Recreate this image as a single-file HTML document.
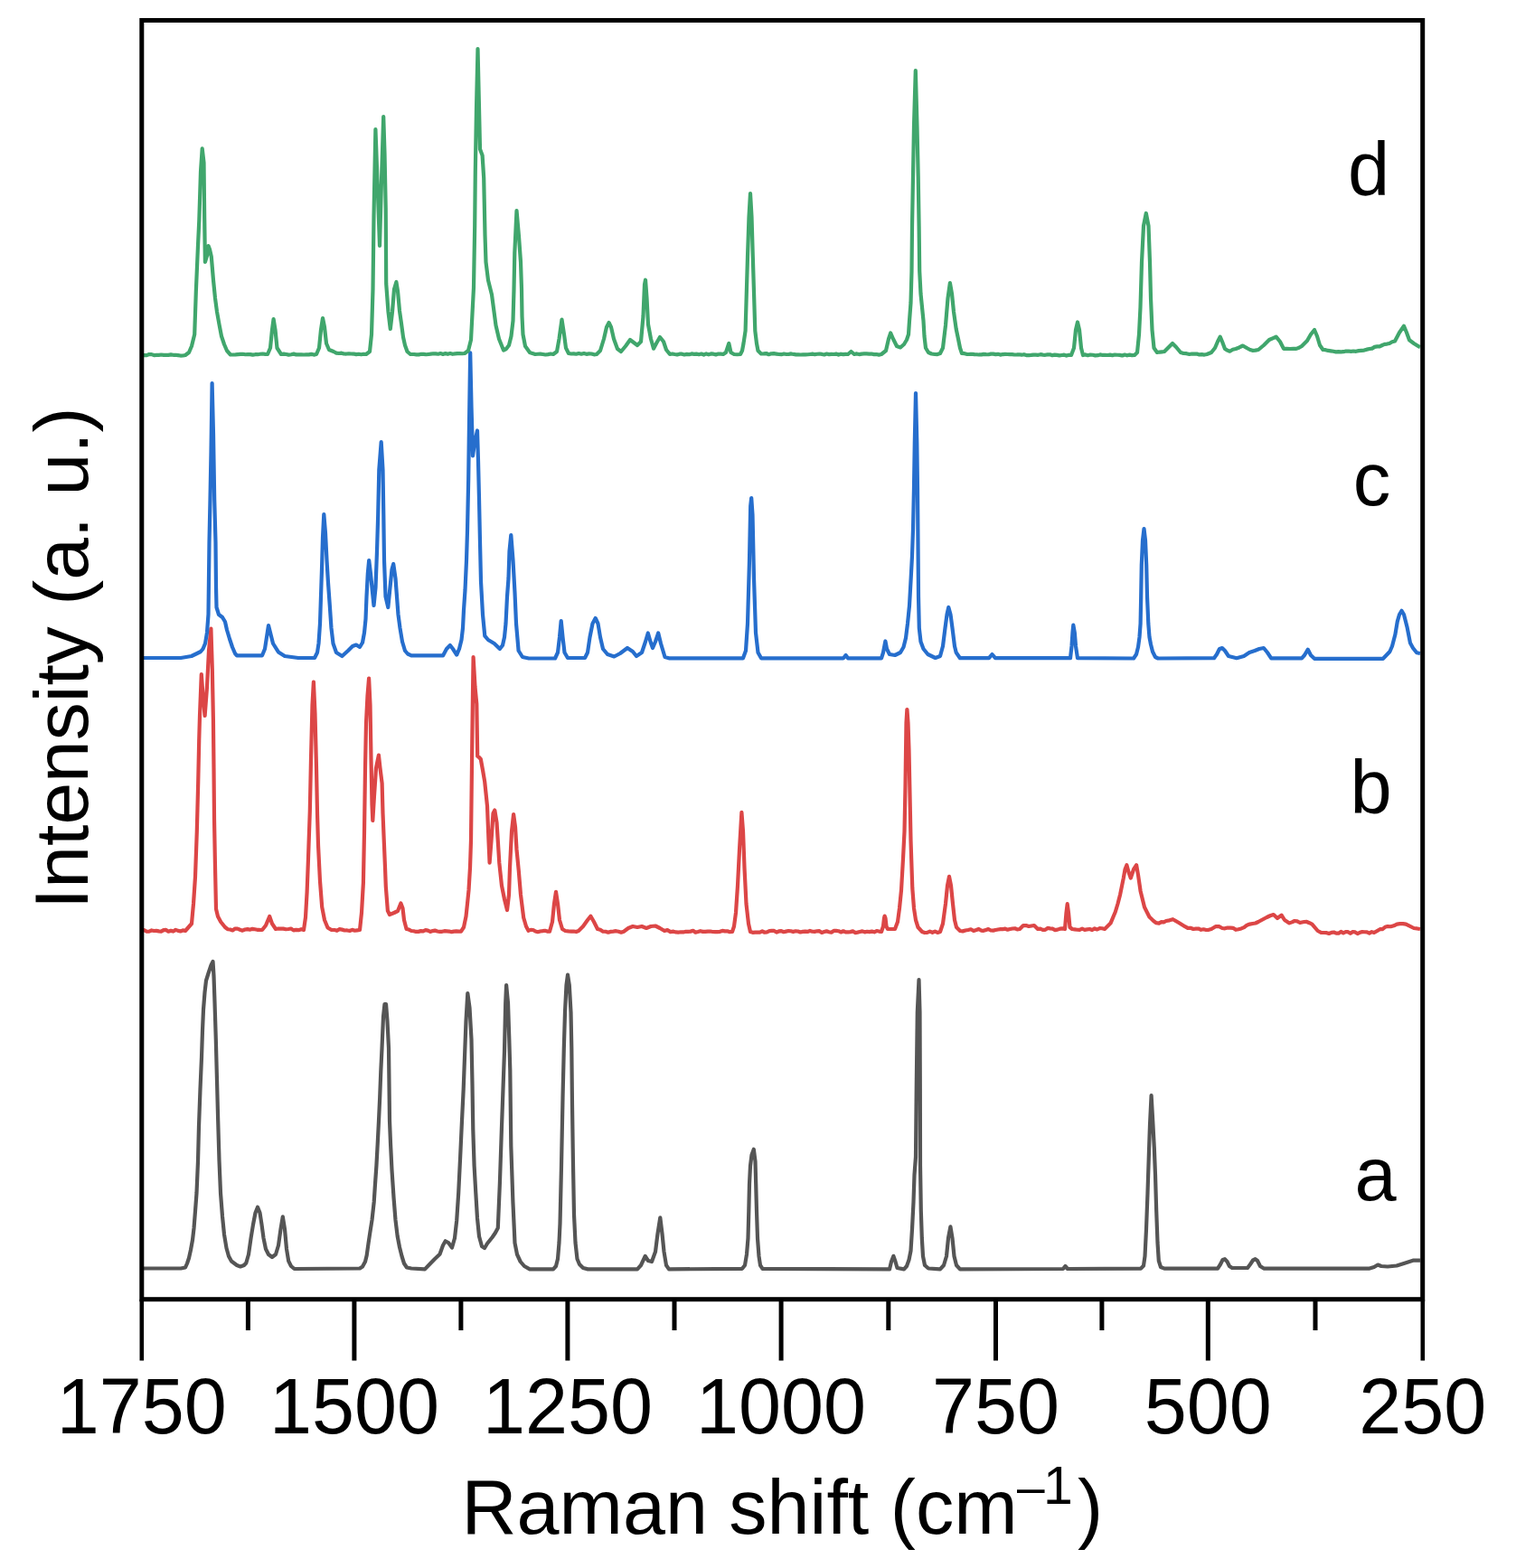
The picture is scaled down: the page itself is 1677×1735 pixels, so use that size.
<!DOCTYPE html>
<html><head><meta charset="utf-8"><title>Raman spectra</title>
<style>html,body{margin:0;padding:0;background:#fff;overflow:hidden;width:1677px;height:1735px;}svg{display:block;}</style>
</head><body>
<svg width="1677" height="1735" viewBox="0 0 1677 1735">
<rect x="0" y="0" width="1677" height="1735" fill="#ffffff"/>
<path d="M157 1403.5 L200 1403.5 L205 1402.5 L207 1398 L209 1392 L211 1383 L213 1372 L214.5 1359 L216 1340 L217.5 1320 L219 1285 L220 1246 L221.5 1205 L223 1170 L224 1140 L225 1117 L226.5 1098 L228 1085 L230.5 1077 L232.5 1071 L233.5 1068 L235.5 1064 L236.5 1080 L237.5 1109 L238.8 1150 L240 1195 L241.2 1240 L242.5 1284 L244 1320 L246 1346 L248 1366 L250.5 1381 L253 1390 L256 1395.5 L262 1400 L265.9 1401.5 L270 1400 L272.3 1397.5 L275 1388 L277.6 1369.8 L280 1355 L282.5 1342 L285 1335.7 L287.5 1342 L289.5 1355 L291.5 1369.8 L294 1382 L297 1388 L301 1391 L305 1388 L308 1378 L310.5 1360 L312.8 1346.4 L315 1360 L317 1382 L319.2 1395.4 L322 1401 L325.6 1404 L398 1403.5 L401 1401.5 L404 1396 L405.7 1389 L407.5 1376 L409.3 1364 L411.5 1350 L413.7 1330 L415 1310 L416.4 1290 L417.7 1266 L419 1240 L420.2 1214 L421.3 1185 L422.5 1160 L424 1125 L425.5 1111 L427 1111 L428.5 1130 L430 1160 L430.5 1200 L431 1240 L432 1265 L433.5 1295 L435.5 1325 L437.5 1350 L439.7 1368 L442 1380 L444.5 1390 L447 1398 L450 1402.5 L455 1403.5 L470 1404.4 L476.1 1398 L481 1393 L486.5 1387.8 L490 1378 L492.7 1373.3 L496 1375 L500 1380.5 L503 1370 L503 1370 L505.2 1350.5 L507.2 1320 L509.2 1279 L511 1240 L512.7 1205 L514 1170 L515.5 1130 L517.3 1099 L519.5 1115 L521.5 1150 L522.5 1200 L523.3 1250 L524.6 1290 L526.3 1320 L528 1348 L530 1368 L533 1379 L536 1381 L539 1376 L544.6 1369 L548 1364 L550.8 1358.7 L552.9 1309 L555 1246.7 L558 1163 L559.2 1110 L560.1 1090 L562 1110 L563.3 1150 L564.3 1184.5 L565.3 1267.5 L567.4 1329.7 L569.5 1375.4 L572 1388 L575.7 1396 L580 1401 L586 1404.4 L612 1404.4 L615 1401 L617 1393 L618.5 1375 L619.5 1354 L621 1290 L622.5 1215 L623.8 1160 L625 1120 L626.5 1090 L628 1078.7 L629.8 1090 L631.5 1120 L632.3 1160 L633 1223 L634 1290 L635 1344 L636.5 1375 L638.5 1393 L641 1399 L645 1403 L650.4 1404.4 L705 1404.4 L709 1400 L713.7 1389.9 L717 1395 L721 1396 L725 1385 L727.5 1365 L730.3 1347.3 L732.5 1365 L734.5 1385 L737 1400 L740 1404.4 L821 1403.8 L824 1400 L826 1388 L827.5 1370 L828.3 1340 L829 1310 L830 1290 L831.5 1278 L833.8 1271.7 L835.5 1285 L836.2 1310 L837 1340 L838 1370 L839.5 1390 L841 1400 L843.5 1403.8 L984 1404.4 L986 1396 L988.4 1389.8 L990.5 1396 L992.5 1403 L1000 1404.4 L1003 1401 L1005.5 1394 L1007.5 1384 L1009 1360 L1010.5 1330 L1011.5 1300 L1013 1280 L1013.8 1200 L1014.8 1120 L1016.5 1084 L1017.5 1120 L1017.8 1200 L1018 1290 L1018.8 1340 L1019.8 1370 L1021 1390 L1023 1400 L1027 1403.5 L1040 1404.4 L1044 1400 L1047 1390 L1049 1370 L1051.4 1357.4 L1053.5 1370 L1055.5 1390 L1058 1400 L1062 1404.4 L1176 1404 L1178.4 1401 L1181 1404 L1262 1403.6 L1265 1400.5 L1266.5 1390 L1268 1360 L1269.5 1320 L1270.8 1280 L1272 1245 L1273.6 1212 L1275.2 1240 L1276.8 1270 L1278 1300 L1279.2 1340 L1280.5 1375 L1281.8 1395 L1284 1402 L1288 1403.6 L1347 1403.6 L1350 1399 L1352.5 1394 L1354.9 1393.2 L1357.5 1396 L1360 1401 L1363 1403 L1380 1403 L1383 1399 L1386 1394.5 L1388.6 1393.2 L1391 1395 L1394 1401 L1398 1403.6 L1515 1403.6 L1520 1402 L1524.2 1399.5 L1528 1401 L1535 1401.5 L1545 1400.5 L1553 1398 L1563 1394.7 L1571 1394.7" stroke="#555555" stroke-width="4.2" fill="none" stroke-linejoin="round" stroke-linecap="butt"/>
<path d="M157 1030 L159.67 1029.2 L162.33 1030.76 L165 1030.58 L167.67 1029.46 L170.33 1029.99 L173 1029.89 L175.67 1030.33 L178.33 1030.64 L181 1029.11 L183.67 1028.96 L186.33 1030.74 L189 1029.85 L191.67 1030.58 L194.33 1028.9 L197 1029.88 L199.67 1030.49 L202.33 1029.4 L205 1030 L212 1022 L214 1000 L216 970 L217.8 920 L219.2 866 L220.2 820 L221 792 L222.8 746 L224.5 770 L226.6 792 L229 760 L231 720 L233.4 695.6 L234.8 740 L235.9 796 L236.5 850 L237 906 L238 960 L239 1005.7 L241 1014 L244.2 1020 L249 1026 L251.8 1028.23 L254.6 1028.5 L257.32 1029.42 L260.05 1027.54 L262.77 1027.57 L265.49 1028.74 L268.22 1029.66 L270.94 1028.47 L273.66 1028.15 L276.38 1028.64 L279.11 1027.81 L281.83 1028.27 L284.55 1028.79 L287.28 1028.95 L290 1029 L294 1024 L298.2 1014 L301 1022 L305 1028 L307.82 1027.5 L310.64 1027.59 L313.45 1027.65 L316.27 1028.27 L319.09 1027.99 L321.91 1027.49 L324.73 1029.38 L327.55 1028.85 L330.36 1029.13 L333.18 1028.22 L336 1029 L338 1015 L339.6 987 L341 950 L342.8 897.8 L344 840 L345.5 780 L346.9 754.7 L348.5 790 L350 850 L351 900 L352 935 L354 975 L356.2 1003.6 L359 1018 L362.5 1026.5 L366.25 1028.83 L370 1029 L372.8 1029.79 L375.6 1028.17 L378.4 1028.63 L381.2 1029.49 L384 1029.46 L386.8 1029.96 L389.6 1028.83 L392.4 1029.73 L395.2 1029.37 L398 1029 L400 1010 L401.9 976.7 L403 920 L404 850 L405 800 L406.5 770 L408.1 750.5 L409.5 780 L410.5 840 L411.5 890 L412.3 908 L414 880 L416 850 L418.9 835.6 L420.5 850 L422.6 866.7 L423.5 900 L424.7 929 L426 960 L426.8 980.8 L428.9 1007.8 L431 1012 L436 1010 L440 1008 L443.4 999.5 L445.5 1005 L447 1018 L449.6 1028 L452.3 1028.57 L455 1030 L457.62 1030.23 L460.24 1030.91 L462.86 1030.86 L465.48 1030.14 L468.1 1030.36 L470.71 1029.18 L473.33 1029.67 L475.95 1030.92 L478.57 1030.11 L481.19 1029.61 L483.81 1030.47 L486.43 1030.85 L489.05 1030.82 L491.67 1030.19 L494.29 1030.37 L496.9 1030.55 L499.52 1031.18 L502.14 1030.65 L504.76 1030.4 L507.38 1030.64 L510 1030.7 L513 1026 L515.5 1014 L517 1000 L518.5 985 L520 960 L521 930 L521.6 880 L522.3 820 L523 766.8 L523.6 727 L525.5 760 L527.3 779 L528.2 836.6 L530 838 L531.8 840 L534 852 L536.2 865 L539 892 L540.5 930 L541.6 954.7 L543.5 930 L545.5 900 L547.3 896.5 L549.5 910 L552.3 954.7 L555 980 L558 995 L561 1007 L563 990 L564 960 L566 920 L568.1 901 L570 915 L571.5 940 L573.8 963.6 L576 990 L579.2 1015.5 L582 1025 L584.5 1029.8 L587.11 1028.87 L589.72 1029 L592.33 1030.55 L594.94 1031.26 L597.56 1030.51 L600.17 1030.17 L602.78 1029.77 L605.39 1030.6 L608 1030.7 L611 1020 L613 1000 L615 986.9 L617 1000 L619 1018 L622 1028 L625.33 1029.96 L628.67 1030.4 L632 1030.7 L634.67 1030.55 L637.33 1031.03 L640 1030 L645 1025 L650 1018 L653.4 1013.7 L657 1020 L661 1028 L664 1028.76 L667 1030.7 L669.88 1030.73 L672.75 1031.7 L675.62 1030.87 L678.5 1030.61 L681.38 1030.19 L684.25 1030.81 L687.12 1031.71 L690 1030.7 L695 1027 L700 1025 L705 1026 L710 1025 L715 1027 L720 1025 L725 1024.5 L730 1027 L735 1030 L738.33 1029.15 L741.67 1031.09 L745 1030.7 L747.71 1031.42 L750.42 1031.57 L753.12 1031.27 L755.83 1031.43 L758.54 1030.8 L761.25 1030.91 L763.96 1030.62 L766.67 1029.82 L769.38 1031.63 L772.08 1030.98 L774.79 1030.18 L777.5 1030.86 L780.21 1030.83 L782.92 1030.56 L785.62 1030.55 L788.33 1030.98 L791.04 1031.18 L793.75 1031.17 L796.46 1030.85 L799.17 1029.91 L801.88 1030.37 L804.58 1030.26 L807.29 1031.17 L810 1031 L812 1025 L814 1010 L816 980 L818 940 L820.4 898.8 L822 920 L823.5 960 L825.5 1000 L828 1022 L830 1031 L832.64 1031.79 L835.27 1031.66 L837.91 1031.65 L840.55 1031.7 L843.18 1030.46 L845.82 1031.75 L848.45 1031.38 L851.09 1030.08 L853.73 1029.94 L856.36 1029.93 L859 1031.56 L861.64 1030.45 L864.27 1030.14 L866.91 1031.27 L869.55 1030.66 L872.18 1030.05 L874.82 1030.25 L877.45 1031.06 L880.09 1030.27 L882.73 1030.5 L885.36 1031.47 L888 1030.9 L890.64 1030.61 L893.27 1030.94 L895.91 1029.95 L898.55 1030.75 L901.18 1030.83 L903.82 1030.31 L906.45 1030.14 L909.09 1031.88 L911.73 1031.02 L914.36 1030.36 L917 1031.23 L919.64 1031.7 L922.27 1029.95 L924.91 1029.94 L927.55 1030.22 L930.18 1031.48 L932.82 1030.25 L935.45 1031.45 L938.09 1031.39 L940.73 1031.1 L943.36 1030.39 L946 1032.05 L948.64 1031.66 L951.27 1031.04 L953.91 1030.39 L956.55 1031.33 L959.18 1030.77 L961.82 1031.17 L964.45 1030.61 L967.09 1031.29 L969.73 1030.03 L972.36 1030.56 L975 1031 L977 1025 L978 1016 L978.6 1013.6 L979.5 1016 L980.5 1025 L982 1028 L987 1028 L990 1028 L993 1020 L995 1005 L997 985 L999 950 L1000.5 920 L1001.5 870 L1002.5 800 L1003.4 785 L1004.5 800 L1005.5 830 L1006.5 880 L1007.5 930 L1008.5 960 L1009.3 983 L1011 1005 L1013 1018 L1015.5 1026 L1020 1031 L1022.86 1032.03 L1025.71 1031.83 L1028.57 1030.57 L1031.43 1031.79 L1034.29 1030.58 L1037.14 1031.97 L1040 1031 L1043 1022 L1046 1000 L1048 980 L1050 969.8 L1052 980 L1054 1000 L1056 1018 L1058 1026 L1062 1030 L1065 1030.37 L1068 1029.48 L1071 1028.96 L1074 1028.25 L1077 1030 L1080 1029 L1082.67 1027.93 L1085.33 1029.59 L1088 1029.85 L1090.67 1028.93 L1093.33 1028 L1096 1029.48 L1098.67 1029.65 L1101.33 1029 L1104 1028.52 L1106.67 1028.18 L1109.33 1028.05 L1112 1027.69 L1114.67 1028.66 L1117.33 1028.07 L1120 1027.49 L1122.67 1027.24 L1125.33 1028.42 L1128 1028 L1132 1024 L1135 1024.05 L1138 1025 L1141 1024.5 L1144 1024 L1148 1028 L1150.73 1027.62 L1153.45 1028.82 L1156.18 1028.88 L1158.91 1026.94 L1161.64 1027.34 L1164.36 1027.62 L1167.09 1029.07 L1169.82 1028.62 L1172.55 1027.65 L1175.27 1027.37 L1178 1028 L1179.5 1010 L1180.7 1000.2 L1182 1010 L1183.5 1026 L1186 1028 L1188.77 1028.38 L1191.54 1028.74 L1194.31 1028.95 L1197.08 1027.66 L1199.85 1028.84 L1202.62 1028.41 L1205.38 1027.97 L1208.15 1029.07 L1210.92 1027.42 L1213.69 1028.5 L1216.46 1027.09 L1219.23 1027.27 L1222 1028 L1228.5 1021.6 L1233.8 1009 L1236.5 1000 L1239.2 989.4 L1242.8 971.6 L1244.5 962 L1246.4 957.2 L1248.5 965 L1250.8 971.6 L1254 962 L1257.1 957.2 L1259 968 L1261.6 985.9 L1266 1003.8 L1271.4 1014.5 L1276 1019 L1279.05 1021.2 L1282.1 1021.6 L1284.73 1020.1 L1287.37 1020.44 L1290 1019 L1293.7 1018.32 L1297.4 1017.2 L1304 1021 L1310.8 1025.2 L1313.87 1026.88 L1316.93 1026.78 L1320 1028 L1322.86 1027.65 L1325.71 1027.54 L1328.57 1028.81 L1331.43 1028.23 L1334.29 1029 L1337.14 1028.85 L1340 1028 L1345 1025 L1348.5 1025.2 L1352 1027 L1355 1027.31 L1358 1026.53 L1361 1026.59 L1364 1026.86 L1367 1028.81 L1370 1028.2 L1373.12 1027.43 L1376.25 1026.12 L1379.38 1023.65 L1382.5 1022.6 L1385.67 1021.99 L1388.83 1021.49 L1392 1020 L1401.3 1015 L1405.05 1013.23 L1408.8 1012 L1413 1016 L1417.6 1012.6 L1421 1018 L1426.3 1021.4 L1429.15 1020.36 L1432 1019 L1435 1019.39 L1438 1021 L1442.6 1020 L1445.53 1019.95 L1448.47 1021.22 L1451.4 1022.6 L1457.7 1030 L1461.35 1031.86 L1465 1032 L1467.62 1032.14 L1470.24 1032.94 L1472.86 1031.91 L1475.48 1031.51 L1478.1 1032.63 L1480.71 1032.72 L1483.33 1030.93 L1485.95 1032.37 L1488.57 1031.1 L1491.19 1031.15 L1493.81 1032.85 L1496.43 1030.99 L1499.05 1031.43 L1501.67 1033.07 L1504.29 1031.83 L1506.9 1031.15 L1509.52 1031.27 L1512.14 1031.43 L1514.76 1032.54 L1517.38 1031.13 L1520 1032 L1526.5 1028.2 L1529.33 1028.04 L1532.17 1025.8 L1535 1025 L1538.43 1025.23 L1541.87 1024.3 L1545.3 1022.6 L1548.63 1022.15 L1551.97 1022.06 L1555.3 1022.6 L1564 1027 L1567.5 1027.45 L1571 1028" stroke="#dc4646" stroke-width="4.2" fill="none" stroke-linejoin="round" stroke-linecap="butt"/>
<path d="M157 728 L200 728 L211.8 726 L218 723 L222 721 L224.5 718 L227 712 L229 700 L230.5 680 L231 640 L231.5 600 L232.5 553 L233.5 500 L234.6 424 L236 480 L237.2 553 L238.5 600 L239 650 L239.5 672 L242 680 L246 683 L249 688 L251 697 L254 707 L257 716 L260 723 L262 725.3 L290 725.3 L293 718 L295 705 L297 692 L299 700 L302 712 L307.9 721.4 L315 726 L330 728 L348 728 L351 722 L352.5 712 L354 690 L355 660 L356 630 L357 595 L358.3 569 L360 590 L361.5 620 L363 645 L364.8 670 L366.5 695 L368.5 712 L372 722 L378.4 726 L385 720 L390 715 L394 713.5 L398 716 L401 711 L403 700 L404.5 685 L405.5 660 L406.8 635 L408.2 620 L410 635 L412 655 L413.5 670 L415.5 650 L417 610 L418.2 570 L419.3 520 L421.7 489 L423.5 520 L424.3 570 L425 620 L426.5 660 L429.3 672 L431.5 650 L433.5 630 L435.2 624 L437.5 640 L439 660 L440.5 680 L442.5 695 L445 710 L448 720 L451 723.5 L455 725.4 L490 725.4 L494 718 L497.9 714 L501 718 L505.2 724.6 L508 718 L510.5 708 L512 695 L513 675 L514.5 653 L516 620 L517 587 L518.2 530 L519 470 L520.2 390.4 L521.5 450 L523 504.5 L525 490 L528 476.5 L529 510 L530 552 L531 600 L532 643.5 L534 680 L536.3 703.7 L540 708 L546.7 712 L552.9 718 L556 714 L558 705 L559.5 690 L561 660 L562.5 640 L563.5 610 L565.3 592 L567.5 620 L569.5 656 L571 690 L573.6 720 L578 727 L585 728.5 L614 728.5 L617 722 L619 705 L620.7 687 L622.5 705 L624.5 722 L628 728 L647 728 L650 722 L652.5 705 L655.5 690 L658.7 684 L661.5 690 L664 705 L667 718 L672 724 L679.4 726.5 L686 723 L694 717 L700 721 L704 726 L710 722 L714 710 L716.8 700.5 L719.5 710 L722 717 L725 710 L728.2 700.5 L731 712 L735.5 727 L740 728.3 L822 728.3 L825 720 L827 690 L829 620 L830.2 560 L831.2 551 L832.5 570 L834 640 L836 700 L838.5 722 L842 728.3 L933 728.3 L935.6 725 L938 728.3 L975 728.3 L977 722 L979.4 709.5 L981 718 L984 724 L990 725 L996 722 L999.5 716 L1002 706 L1004 690 L1006 670 L1007.5 643 L1009 615 L1010 586 L1011 540 L1011.8 490 L1013 435 L1014.3 490 L1015 540 L1015.5 600 L1016 660 L1016.8 695 L1018.5 710 L1021.5 718 L1026.4 724 L1034.7 728 L1040 726 L1043 715 L1045.5 695 L1047.5 680 L1049.3 672 L1051.5 680 L1053.5 695 L1056 715 L1057.7 722 L1062 728.2 L1094 728.2 L1097.5 724 L1101 728.2 L1184 728.2 L1185.5 715 L1186.5 700 L1187.3 691.7 L1188.8 700 L1190 715 L1192 728.2 L1254 728.5 L1257 724 L1259 716 L1260.5 705 L1261.6 690 L1262.2 660 L1262.8 625 L1264 598 L1265.5 585 L1267 598 L1268.2 625 L1269 660 L1270.3 690 L1271.5 705 L1273 713 L1275 721 L1278 727 L1281 728.5 L1343 728.2 L1346 724 L1349 718 L1352 717 L1355 720 L1359 726 L1368 728.2 L1376 726 L1382 722 L1388 720 L1393 718 L1397.9 717 L1402 722 L1406.2 728.3 L1440 728.3 L1443 725 L1446.8 718.7 L1450 725 L1454 728.8 L1530 728.8 L1537.4 721 L1540 715 L1543.4 702 L1545.8 687.7 L1548 680 L1550.5 675.8 L1553 680 L1556.5 693.7 L1560 711.6 L1563 717 L1567.2 722.3 L1571 723" stroke="#266ecd" stroke-width="4.2" fill="none" stroke-linejoin="round" stroke-linecap="butt"/>
<path d="M157 392.5 L159.67 393.08 L162.33 393.09 L165 392.05 L167.67 392.11 L170.33 393.04 L173 392.95 L175.67 392.9 L178.33 392.49 L181 392.88 L183.67 392.91 L186.33 392.9 L189 392.42 L191.67 392.78 L194.33 392.76 L197 393.18 L199.67 393.54 L202.33 393.51 L205 393 L209 390 L212 383 L215.2 370 L216.8 323 L218.9 274 L220.3 244 L222 190 L223.7 164.4 L225.5 180 L226.2 242 L226.9 290 L229 283 L230.5 272 L232 276 L233.8 284 L236 310 L238 330 L240 345 L242.5 359 L245 372 L248 381 L251 388 L255 392.5 L257.73 392.52 L260.47 392.37 L263.2 392.12 L265.93 391.81 L268.67 391.77 L271.4 392.26 L274.13 392.05 L276.87 392.09 L279.6 392.67 L282.33 392.2 L285.07 392.21 L287.8 391.78 L290.53 391.5 L293.27 391.82 L296 392 L299 385 L301 365 L302.6 353 L304.5 365 L306.5 385 L311 392 L313.79 391.56 L316.57 392.01 L319.36 392.6 L322.14 392.21 L324.93 391.62 L327.71 392.47 L330.5 392.36 L333.29 392.28 L336.07 392.49 L338.86 392.32 L341.64 392.35 L344.43 391.82 L347.21 392.58 L350 392 L353 385 L355 365 L357 352 L359 362 L361 380 L364 387 L369 389 L372 390.55 L375 391 L377.73 390.68 L380.45 391.49 L383.18 391.53 L385.91 391.32 L388.64 391.49 L391.36 391.53 L394.09 392.15 L396.82 391.73 L399.55 392.22 L402.27 391.73 L405 392 L409 389 L411 370 L412.5 320 L413.5 240 L415.4 143 L417.5 200 L420 272 L422 200 L424.2 129 L425.5 170 L426.7 230 L427.2 314 L429.5 345 L431.8 364 L434 345 L436 320 L438.4 312 L440 322 L442 344 L444 358 L446 373 L448 382 L450.5 389 L454 392 L458 392 L460.67 392.41 L463.33 392.38 L466 391.81 L468.67 391.89 L471.33 392.27 L474 391.98 L476.67 391.65 L479.33 391.29 L482 391.36 L484.67 391.76 L487.33 391.08 L490 391.92 L492.67 391.1 L495.33 391.83 L498 391.06 L500.67 391.79 L503.33 391.44 L506 391.15 L508.67 391.12 L511.33 391.23 L514 391 L518 388 L521 376 L522.5 347 L524 318 L525.2 250 L525.8 190 L527 120 L528.5 54 L530 120 L531 165 L533.6 172 L535.2 197 L536.5 260 L537.5 290 L540 310 L544 326 L548.5 360 L552 375 L557 387.5 L560 386 L563 382 L565.5 372 L567.5 355 L568.5 320 L569.3 280 L571.5 233 L574 262 L576 290 L577 320 L577.5 350 L578.5 370 L581 383 L586 390 L589 391.11 L592 392 L594.86 391.77 L597.71 391.65 L600.57 392.01 L603.43 392.52 L606.29 392.15 L609.14 391.49 L612 392 L616 389 L618.5 375 L621.5 353.5 L624 370 L626 385 L629 391 L631.82 391.48 L634.64 391.45 L637.45 391.76 L640.27 390.99 L643.09 391.75 L645.91 391.02 L648.73 391.82 L651.55 391.45 L654.36 391.49 L657.18 392.36 L660 392 L664 388 L668 375 L671 362 L673.6 357 L676 362 L679 375 L683 386 L687 389 L692 383 L697 376 L701 379 L705 382 L709 378 L711.5 350 L713 315 L714 309.7 L715.5 330 L717 359 L720 375 L723 385.7 L726 380 L730 373 L734 378 L737 387 L741 392 L743.68 391.53 L746.36 392.03 L749.05 392.42 L751.73 391.69 L754.41 391.65 L757.09 392.46 L759.77 391.91 L762.45 392.26 L765.14 391.44 L767.82 391.83 L770.5 391.61 L773.18 392.21 L775.86 391.5 L778.55 392.55 L781.23 391.43 L783.91 392.28 L786.59 391.43 L789.27 391.71 L791.95 392.38 L794.64 391.59 L797.32 391.62 L800 392 L803 390 L806.3 380 L808.5 390 L812 392 L815.5 392.23 L819 392 L821 388 L822.5 380 L824.6 366 L827 284 L828.5 240 L830 214 L831.5 240 L832.8 284 L835.3 366 L837 380 L838.5 388 L842 391.5 L844.8 391.41 L847.6 391.05 L850.4 392.24 L853.2 391.28 L856 391.19 L858.8 391.61 L861.6 391.99 L864.4 392.19 L867.2 391.49 L870 392 L872.62 391.8 L875.23 391.44 L877.85 391.94 L880.46 392.32 L883.08 392.29 L885.69 392.48 L888.31 392.31 L890.92 392.43 L893.54 392.25 L896.15 391.97 L898.77 391.67 L901.38 392.19 L904 391.78 L906.62 391.52 L909.23 391.94 L911.85 392.45 L914.46 391.55 L917.08 392.1 L919.69 391.87 L922.31 392.02 L924.92 391.57 L927.54 392.55 L930.15 391.71 L932.77 392.13 L935.38 391.9 L938 392 L941.5 389 L945 392 L947.73 391.42 L950.45 392.07 L953.18 391.57 L955.91 391.47 L958.64 391.44 L961.36 391.59 L964.09 391.52 L966.82 392.16 L969.55 392.01 L972.27 392.58 L975 392 L980 388 L983 375 L985.2 368.5 L988 375 L992 383 L996 384.5 L1000 381 L1003 376 L1005 370 L1006 355 L1007.5 335 L1008.5 300 L1009 250 L1010 195 L1011 140 L1012.8 78 L1014.5 140 L1015.7 195 L1016.6 250 L1017.2 300 L1018.5 325 L1020 340 L1021.5 355 L1022.5 372 L1024 385 L1027 390 L1030.5 391.52 L1034 392 L1037 392.09 L1040 391 L1043 385 L1046 360 L1048.5 330 L1050.9 313 L1053 325 L1055 345 L1057.7 364 L1060 375 L1062 385 L1064 391 L1067 391.18 L1070 392 L1072.61 391.96 L1075.23 391.75 L1077.84 392.18 L1080.45 392.24 L1083.07 392.47 L1085.68 392.39 L1088.3 391.87 L1090.91 392.09 L1093.52 392.24 L1096.14 391.63 L1098.75 391.69 L1101.36 392.16 L1103.98 391.83 L1106.59 392.59 L1109.2 392.03 L1111.82 391.88 L1114.43 392 L1117.05 392.09 L1119.66 392.09 L1122.27 392.48 L1124.89 392.43 L1127.5 392.27 L1130.11 392.69 L1132.73 392.2 L1135.34 393.06 L1137.95 393.15 L1140.57 392.89 L1143.18 392.56 L1145.8 392.67 L1148.41 392.78 L1151.02 392.17 L1153.64 392.63 L1156.25 392.78 L1158.86 392.39 L1161.48 392.31 L1164.09 393.18 L1166.7 392.68 L1169.32 392.89 L1171.93 393.39 L1174.55 393.04 L1177.16 392.68 L1179.77 393.53 L1182.39 392.82 L1185 393 L1188 385 L1190 365 L1192 356.5 L1194 365 L1196 385 L1198 393 L1200.71 392.42 L1203.43 393.22 L1206.14 392.52 L1208.86 392.77 L1211.57 393.41 L1214.29 393.21 L1217 392.42 L1219.71 392.94 L1222.43 392.89 L1225.14 392.98 L1227.86 392.65 L1230.57 393.11 L1233.29 392.49 L1236 392.74 L1238.71 392.85 L1241.43 393.52 L1244.14 392.49 L1246.86 393.31 L1249.57 392.63 L1252.29 393.09 L1255 393 L1258 390 L1260 370 L1261.5 340 L1263 290 L1265 250 L1267.8 236 L1270.5 250 L1272 290 L1273 330 L1274.5 365 L1276.5 385 L1280 390 L1282.67 389.54 L1285.33 389.29 L1288 389 L1292 385 L1297 380 L1301 384 L1306 390 L1309.23 390.97 L1312.47 391.21 L1315.7 392 L1318.46 391.55 L1321.21 391.55 L1323.97 391.5 L1326.73 392.42 L1329.49 392.17 L1332.24 392.55 L1335 392 L1340 390 L1344 385 L1347 378 L1349.7 372.6 L1352 378 L1355 386 L1357.7 387.58 L1360.4 388.7 L1363.7 386.78 L1367 386 L1370.9 384.44 L1374.8 382.5 L1380 385.5 L1382.75 386.98 L1385.5 387.8 L1388.75 387.67 L1392 387 L1398 382 L1404 376 L1407.8 374.35 L1411.6 372.7 L1416 378 L1420 385.9 L1423.5 385.78 L1427 386 L1430.5 385.9 L1434 385.9 L1437 384.81 L1440 383 L1446 377 L1450 370 L1454 365 L1457 372 L1460 382 L1463.5 387 L1466.38 387.17 L1469.25 387.93 L1472.12 388.32 L1475 388.8 L1477.78 389.35 L1480.56 389.17 L1483.33 389.32 L1486.11 389.2 L1488.89 388.56 L1491.67 388.48 L1494.44 388.79 L1497.22 388.51 L1500 388.8 L1503 388.15 L1506 387.89 L1509 387.62 L1512 386.66 L1515 386 L1517.8 385.58 L1520.6 383.92 L1523.4 383.43 L1526.2 383.4 L1529 382 L1531.67 380.91 L1534.33 380.57 L1537 380 L1540 378.23 L1543 377.5 L1548 368 L1553 360.8 L1556 368 L1559 376.3 L1564 380 L1569.6 383.5 L1571 384" stroke="#40a66c" stroke-width="4.2" fill="none" stroke-linejoin="round" stroke-linecap="butt"/>
<rect x="156.8" y="22.5" width="1416.9" height="1415.2" fill="none" stroke="#000" stroke-width="5"/>
<line x1="391.9" y1="1437.7" x2="391.9" y2="1505.5" stroke="#000" stroke-width="5"/>
<line x1="627.9" y1="1437.7" x2="627.9" y2="1505.5" stroke="#000" stroke-width="5"/>
<line x1="864.1" y1="1437.7" x2="864.1" y2="1505.5" stroke="#000" stroke-width="5"/>
<line x1="1101.5" y1="1437.7" x2="1101.5" y2="1505.5" stroke="#000" stroke-width="5"/>
<line x1="1336.3" y1="1437.7" x2="1336.3" y2="1505.5" stroke="#000" stroke-width="5"/>
<line x1="156.8" y1="1437.7" x2="156.8" y2="1505.5" stroke="#000" stroke-width="4.6"/>
<line x1="1573.8" y1="1437.7" x2="1573.8" y2="1505.5" stroke="#000" stroke-width="4.6"/>
<line x1="1455.0" y1="1437.7" x2="1455.0" y2="1472" stroke="#000" stroke-width="5"/>
<line x1="1218.9" y1="1437.7" x2="1218.9" y2="1472" stroke="#000" stroke-width="5"/>
<line x1="982.8" y1="1437.7" x2="982.8" y2="1472" stroke="#000" stroke-width="5"/>
<line x1="746.0" y1="1437.7" x2="746.0" y2="1472" stroke="#000" stroke-width="5"/>
<line x1="509.9" y1="1437.7" x2="509.9" y2="1472" stroke="#000" stroke-width="5"/>
<line x1="274.4" y1="1437.7" x2="274.4" y2="1472" stroke="#000" stroke-width="5"/>
<text x="156.8" y="1585.5" font-family='"Liberation Sans", sans-serif' font-size="84.5" text-anchor="middle" fill="#000" transform="translate(0 -47) scale(1 1.03)">1750</text>
<text x="391.9" y="1585.5" font-family='"Liberation Sans", sans-serif' font-size="84.5" text-anchor="middle" fill="#000" transform="translate(0 -47) scale(1 1.03)">1500</text>
<text x="627.9" y="1585.5" font-family='"Liberation Sans", sans-serif' font-size="84.5" text-anchor="middle" fill="#000" transform="translate(0 -47) scale(1 1.03)">1250</text>
<text x="864.1" y="1585.5" font-family='"Liberation Sans", sans-serif' font-size="84.5" text-anchor="middle" fill="#000" transform="translate(0 -47) scale(1 1.03)">1000</text>
<text x="1101.5" y="1585.5" font-family='"Liberation Sans", sans-serif' font-size="84.5" text-anchor="middle" fill="#000" transform="translate(0 -47) scale(1 1.03)">750</text>
<text x="1336.3" y="1585.5" font-family='"Liberation Sans", sans-serif' font-size="84.5" text-anchor="middle" fill="#000" transform="translate(0 -47) scale(1 1.03)">500</text>
<text x="1573.8" y="1585.5" font-family='"Liberation Sans", sans-serif' font-size="84.5" text-anchor="middle" fill="#000" transform="translate(0 -47) scale(1 1.03)">250</text>
<text x="510.5" y="1696.5" font-family='"Liberation Sans", sans-serif' font-size="84.5" fill="#000">Raman shift (cm</text>
<text x="1125" y="1664" font-family='"Liberation Sans", sans-serif' font-size="55" fill="#000">–</text>
<text x="1154" y="1664" font-family='"Liberation Sans", sans-serif' font-size="59" fill="#000">1</text>
<text x="1192" y="1696.5" font-family='"Liberation Sans", sans-serif' font-size="84.5" fill="#000">)</text>
<text transform="translate(97 1006) rotate(-90)" x="0" y="0" font-family='"Liberation Sans", sans-serif' font-size="84" fill="#000">Intensity (a. u.)</text>
<text x="1514" y="215.5" font-family='"Liberation Sans", sans-serif' font-size="83" text-anchor="middle" fill="#000">d</text>
<text x="1517.5" y="559" font-family='"Liberation Sans", sans-serif' font-size="83" text-anchor="middle" fill="#000">c</text>
<text x="1516.5" y="900" font-family='"Liberation Sans", sans-serif' font-size="83" text-anchor="middle" fill="#000">b</text>
<text x="1521.5" y="1328" font-family='"Liberation Sans", sans-serif' font-size="83" text-anchor="middle" fill="#000">a</text>
</svg>
</body></html>
